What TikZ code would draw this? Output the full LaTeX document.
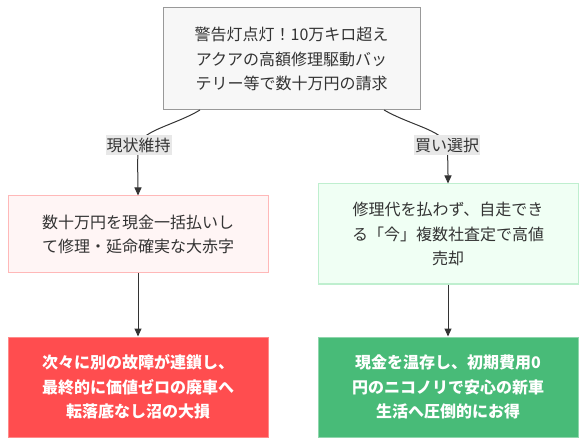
\documentclass[tikz,border=0pt]{standalone}
\usepackage{fontspec}
\setmainfont{Noto Sans CJK JP}
\usetikzlibrary{arrows.meta}
\definecolor{txt}{HTML}{333333}
\definecolor{topfill}{HTML}{F7F7F7}
\definecolor{topdraw}{HTML}{999999}
\definecolor{pinkfill}{HTML}{FFF5F5}
\definecolor{pinkdraw}{HTML}{FFB8B8}
\definecolor{mintfill}{HTML}{F0FFF4}
\definecolor{mintdraw}{HTML}{BFEFCF}
\definecolor{redfill}{HTML}{FF4D4F}
\definecolor{reddraw}{HTML}{FF8A8A}
\definecolor{grnfill}{HTML}{48BB78}
\definecolor{grndraw}{HTML}{8FD6AC}
\definecolor{lblfill}{HTML}{E8E8E8}
\tikzset{
  box/.style={rectangle, line width=1pt, align=center, text=txt,
    font=\fontsize{16}{24.5}\selectfont, inner sep=0pt},
  lbl/.style={fill=lblfill, text=txt, font=\fontsize{16}{20}\selectfont,
    inner xsep=1pt, inner ysep=3pt},
  conn/.style={draw=txt, line width=1pt, -{Triangle[length=8pt,width=7pt]}},
}
\begin{document}
\begin{tikzpicture}[x=1pt,y=-1pt]
\useasboundingbox (0,0) rectangle (586,446);
% boxes
\node[box, fill=topfill, draw=topdraw, minimum width=257, minimum height=102] (top) at (291.5,59)
  {警告灯点灯！10万キロ超え\\アクアの高額修理駆動バッ\\テリー等で数十万円の請求};
\node[box, fill=pinkfill, draw=pinkdraw, minimum width=260, minimum height=77] (keep) at (138,234.5)
  {数十万円を現金一括払いし\\て修理・延命確実な大赤字};
\node[box, fill=mintfill, draw=mintdraw, minimum width=260, minimum height=100] (sell) at (448,234)
  {修理代を払わず、自走でき\\る「今」複数社査定で高値\\売却};
\node[box, fill=redfill, draw=reddraw, text=white, font=\fontsize{16}{24.5}\selectfont\bfseries, minimum width=260, minimum height=100] (loss) at (138,387)
  {次々に別の故障が連鎖し、\\最終的に価値ゼロの廃車へ\\転落底なし沼の大損};
\node[box, fill=grnfill, draw=grndraw, text=white, font=\fontsize{16}{24.5}\selectfont\bfseries, minimum width=260, minimum height=100] (gain) at (448,387)
  {現金を温存し、初期費用0\\円のニコノリで安心の新車\\生活へ圧倒的にお得};
% connector anchors
\coordinate (t1) at (200,110);
\coordinate (t2) at (384,110);
\coordinate (l1) at (138.5,145);
\coordinate (l2) at (447,145);
% connectors
\draw[conn] (t1) .. controls (175,125) and (143,130) .. (l1) .. controls (137,162) and (138,175) .. (keep.north);
\draw[conn] (t2) .. controls (410,125) and (442,130) .. (l2) .. controls (448,162) and (448,170) .. (sell.north);
\draw[conn] (keep.south) -- (loss.north);
\draw[conn] (sell.south) -- (gain.north);
% labels
\node[lbl] (lk) at (l1) {現状維持};
\node[lbl] (ls) at (l2) {買い選択};
\end{tikzpicture}
\end{document}
